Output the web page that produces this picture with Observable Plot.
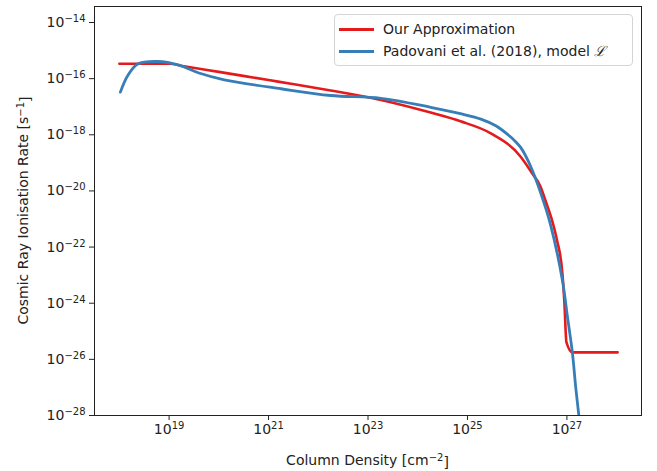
<!DOCTYPE html>
<html>
<head>
<meta charset="utf-8">
<script src="https://cdn.jsdelivr.net/npm/d3@7"></script>
<script src="https://cdn.jsdelivr.net/npm/@observablehq/plot@0.6"></script>
<style>
  body { margin: 0; background: #fff; font-family: "DejaVu Sans", sans-serif; }
  #chart { position: relative; width: 657px; height: 471px; }
  .legend {
    position: absolute; left: 334px; top: 14px; width: 299px; height: 52px;
    box-sizing: border-box; border: 1px solid #d4d4d4; border-radius: 4px;
    background: rgba(255,255,255,0.85); font-size: 14px; color: #222;
  }
  .legend .row { position: absolute; left: 0; height: 20px; width: 100%; }
  .legend .swatch { position: absolute; left: 4px; top: 9px; width: 35px; height: 3px; }
  .legend .label { position: absolute; left: 48px; top: 1px; white-space: nowrap; line-height: 18px; }
  .legend .script { font-style: italic; font-family: "DejaVu Serif", serif; }
</style>
</head>
<body>
<div id="chart"></div>
<script>
// Ionisation rate versus column density, both in log10 units.
const approxLogN    = [18.0, 19.0, 19.3, 20.0, 21.0, 21.45, 22.25, 23.26, 24.26, 24.86, 25.47, 26.07, 26.30, 26.47, 26.57, 26.71, 26.80, 26.91, 26.95, 26.99, 27.11, 28.02];
const approxLogRate = [-15.47, -15.47, -15.56, -15.76, -16.05, -16.18, -16.42, -16.76, -17.21, -17.52, -17.95, -18.78, -19.37, -19.85, -20.35, -21.10, -21.75, -22.95, -24.0, -25.39, -25.75, -25.75];

const padovaniLogN    = [18.02, 18.17, 18.37, 18.77, 19.20, 19.60, 20.11, 21.25, 22.25, 23.26, 24.26, 24.86, 25.27, 25.57, 25.87, 25.97, 26.07, 26.27, 26.47, 26.67, 26.91, 27.01, 27.11, 27.18, 27.24, 27.30];
const padovaniLogRate = [-16.48, -15.89, -15.48, -15.39, -15.52, -15.80, -16.04, -16.36, -16.60, -16.70, -17.02, -17.25, -17.44, -17.68, -18.08, -18.25, -18.45, -19.12, -20.06, -21.20, -23.19, -24.47, -25.76, -27.04, -28.0, -28.96];

const xTickExponents = [19, 21, 23, 25, 27];
const yTickExponents = [-14, -16, -18, -20, -22, -24, -26, -28];

const seriesNames  = ["Our Approximation", "Padovani et al. (2018), model "];
const seriesColors = ["#e41a1c", "#377eb8"];

const approx   = approxLogN.map((n, i) => ({N: 10 ** n, rate: 10 ** approxLogRate[i]}));
const padovani = padovaniLogN.map((n, i) => ({N: 10 ** n, rate: 10 ** padovaniLogRate[i]}));

const chart = Plot.plot({
  width: 657,
  height: 471,
  marginLeft: 94,
  marginRight: 16,
  marginTop: 6,
  marginBottom: 56,
  style: {fontFamily: "DejaVu Sans, sans-serif", fontSize: "14px", color: "#222", background: "#fff"},
  x: {type: "log", domain: [10 ** 17.5, 10 ** 28.5]},
  y: {type: "log", domain: [1e-28, 10 ** -13.43]},
  marks: [
    Plot.axisX(xTickExponents.map(e => 10 ** e), {
      tickSize: 5, tickPadding: 4, label: null,
      tickFormat: d => String(Math.round(Math.log10(d)))
    }),
    Plot.axisY(yTickExponents.map(e => 10 ** e), {
      tickSize: 5, tickPadding: 4, label: null,
      tickFormat: d => String(Math.round(Math.log10(d)))
    }),
    Plot.line(approx, {x: "N", y: "rate", stroke: seriesColors[0], strokeWidth: 2.6, curve: "monotone-x", clip: true}),
    Plot.line(padovani, {x: "N", y: "rate", stroke: seriesColors[1], strokeWidth: 2.8, curve: "catmull-rom", clip: true}),
    Plot.frame({stroke: "#222", strokeWidth: 1})
  ]
});

const host = document.getElementById("chart");
host.appendChild(chart);

// Tick labels as 10 with a raised exponent.
const svg = d3.select(chart);
svg.selectAll('g[aria-label="x-axis tick label"] text, g[aria-label="y-axis tick label"] text').each(function () {
  const exp = this.textContent.replace("-", "\u2212");
  const t = d3.select(this);
  t.text(null);
  t.append("tspan").text("10");
  t.append("tspan").attr("dy", "-0.5em").attr("font-size", "10px").text(exp);
});

// Axis titles with superscript units.
function titled(sel, before, sup, after) {
  sel.append("tspan").text(before);
  sel.append("tspan").attr("dy", "-0.45em").attr("font-size", "10px").text(sup);
  sel.append("tspan").attr("dy", "0.45em").text(after);
}
titled(
  svg.append("text").attr("x", (94 + 641) / 2).attr("y", 465).attr("text-anchor", "middle")
    .attr("font-size", 14).attr("fill", "#222"),
  "Column Density [cm", "\u22122", "]"
);
titled(
  svg.append("text").attr("transform", `translate(28,${(6 + 415) / 2}) rotate(-90)`).attr("text-anchor", "middle")
    .attr("font-size", 14).attr("fill", "#222"),
  "Cosmic Ray Ionisation Rate [s", "\u22121", "]"
);

// Legend
const legend = d3.select(host).append("div").attr("class", "legend");
seriesNames.forEach((name, i) => {
  const row = legend.append("div").attr("class", "row").style("top", `${4 + i * 22}px`);
  row.append("div").attr("class", "swatch").style("background", seriesColors[i]);
  const lab = row.append("div").attr("class", "label").text(name);
  if (i === 1) lab.append("span").attr("class", "script").text("\u2112");
});
</script>
</body>
</html>
